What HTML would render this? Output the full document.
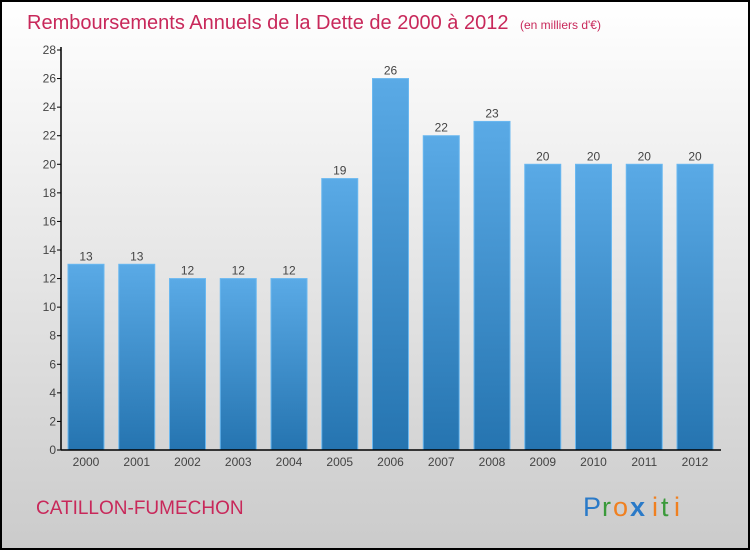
<!DOCTYPE html>
<html><head><meta charset="utf-8"><style>
body{margin:0;width:750px;height:550px;overflow:hidden}
svg{display:block;font-family:"Liberation Sans",sans-serif}
</style></head><body>
<svg id="c" width="750" height="550" xmlns="http://www.w3.org/2000/svg">
<defs>
<linearGradient id="bg" x1="0" y1="0" x2="0" y2="1"><stop offset="0" stop-color="#ffffff"/><stop offset="1" stop-color="#cbcbcb"/></linearGradient>
<linearGradient id="bar" x1="0" y1="0" x2="0" y2="1"><stop offset="0" stop-color="#5aaae6"/><stop offset="1" stop-color="#2574b0"/></linearGradient>
</defs>
<rect x="1" y="1" width="748" height="548" fill="url(#bg)" stroke="#000" stroke-width="2"/>
<text x="27" y="29" font-size="20" fill="#c8285a">Remboursements Annuels de la Dette de 2000 à 2012 <tspan font-size="12" dx="6">(en milliers d'€)</tspan></text>
<g id="plot"></g>
<text x="36" y="514" font-size="19" fill="#c8285a">CATILLON-FUMECHON</text>
<g font-size="27">
<text x="583" y="516" fill="#2a7ac8">P</text><text x="602" y="516" fill="#3a9a3a">r</text><text x="613" y="516" fill="#f08020">o</text><text x="630" y="516" fill="#2a7ac8" font-weight="bold">x</text><text x="652" y="516" fill="#f08020">i</text><text x="661" y="516" fill="#3a9a3a">t</text><text x="674" y="516" fill="#f08020">i</text>
</g>
</svg>
<script>
const years=["2000","2001","2002","2003","2004","2005","2006","2007","2008","2009","2010","2011","2012"];
const values=[13,13,12,12,12,19,26,22,23,20,20,20,20];
const yTicks=[0,2,4,6,8,10,12,14,16,18,20,22,24,26,28];
const NS="http://www.w3.org/2000/svg";
const g=document.getElementById('plot');
const y0=450,yTop=50,yMax=28,x0=61,x1=721;
const ys=v=>y0-(v/yMax)*(y0-yTop);
const step=50.75,first=86,bw=36;
const xs=i=>first+i*step;
function el(t,a,txt){const e=document.createElementNS(NS,t);for(const k in a)e.setAttribute(k,a[k]);if(txt!=null)e.textContent=txt;g.appendChild(e);return e;}
yTicks.forEach(v=>{
 const t=el('line',{x1:x0-4,x2:x0,y1:ys(v),y2:ys(v),stroke:'#000'});
 
 
 const l=el('text',{x:x0-5,y:ys(v)+4,'font-size':12,'text-anchor':'end',fill:'#444'},v);
 
 
});
values.forEach((v,i)=>{
 const r=el('rect',{x:xs(i)-bw/2,y:ys(v),width:bw,height:y0-ys(v),fill:'url(#bar)',stroke:'#6ab8f0','stroke-width':1});
 
 
 const t=el('text',{x:xs(i),y:ys(v)-4,'font-size':12,'text-anchor':'middle',fill:'#444'},v);
 
 
 const xl=el('text',{x:xs(i),y:y0+16,'font-size':12,'text-anchor':'middle',fill:'#444'},years[i]);
 
 
});
const ya=el('line',{x1:x0,x2:x0,y1:yTop-3,y2:y0,stroke:'#000','stroke-width':1.5});


const xa=el('line',{x1:x0,x2:x1,y1:y0,y2:y0,stroke:'#000','stroke-width':1.5});


</script>
</body></html>
